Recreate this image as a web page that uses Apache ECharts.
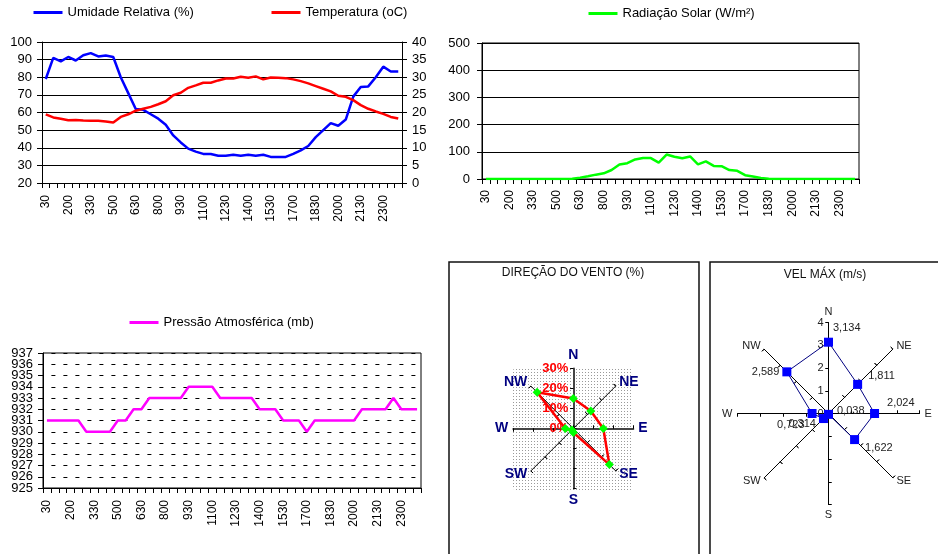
<!DOCTYPE html>
<html><head><meta charset="utf-8">
<script src="https://cdn.jsdelivr.net/npm/echarts@6/dist/echarts.min.js"></script>
<style>html,body{margin:0;padding:0;background:#fff}#c{width:938px;height:554px}</style>
</head><body><div id="c"></div>
<script>
const categories = ['30','100','130','200','230','300','330','400','430','500','530','600','630','700','730','800','830','900','930','1000','1030','1100','1130','1200','1230','1300','1330','1400','1430','1500','1530','1600','1630','1700','1730','1800','1830','1900','1930','2000','2030','2100','2130','2200','2230','2300','2330','0'];
const umidade = [79,91,89,91.5,89.5,92.5,93.7,91.8,92.3,91.5,80,71,62,61.5,59,56.5,53,47,43,39.5,37.8,36.5,36.5,35.5,35.5,36,35.5,36,35.5,36,34.8,34.8,34.8,36.5,38.5,41,46,50,54,52.5,56,69,74.5,74.8,80,86,83.3,83.3];
const temperatura = [19.45,18.6,18.2,17.8,17.9,17.7,17.65,17.65,17.45,17.15,18.75,19.5,20.5,21.05,21.6,22.35,23.2,24.9,25.6,27.0,27.7,28.45,28.45,29.1,29.65,29.65,30.15,29.85,30.25,29.4,29.95,29.85,29.75,29.4,28.9,28.25,27.5,26.75,26.0,24.75,24.45,23.5,22.1,21.05,20.3,19.6,18.75,18.3];
const radiacao = [0,0,0,0,0,0,0,0,0,0,0,1,5,10,16,21,33,53,58,72,77,77,60,90,82,76,83,54,65,48,47,33,30,14,9,4,1,0,0,0,0,0,0,0,0,0,0,0];
const pressao = [931,931,931,931,931,930,930,930,930,931,931,932,932,933,933,933,933,933,934,934,934,934,933,933,933,933,933,932,932,932,931,931,931,930,931,931,931,931,931,931,932,932,932,932,933,932,932,932];
const windDirs = ['N','NW','W','SW','S','SE','E','NE'];
const windPct = [15,25.6,4,1,2,25.5,15,12.4];
const velMax = [3.134,2.589,0.723,0.314,0.038,1.622,2.024,1.811];
const leftTicks1 = {min:20,max:100,interval:10};
const rightTicks1 = {min:0,max:40,interval:5};
const radTicks = {min:0,max:500,interval:100};
const presTicks = {min:925,max:937,interval:1};
const presEnds = {min:925,max:937,interval:12};

const FF = 'Liberation Sans, Arial, sans-serif';
const chart = echarts.init(document.getElementById('c'));

// dotted pattern
const pc = document.createElement('canvas'); pc.width = 3; pc.height = 3;
const pctx = pc.getContext('2d');
pctx.fillStyle = '#ffffff'; pctx.fillRect(0,0,3,3);
pctx.fillStyle = '#9a9a9a'; pctx.fillRect(0,0,1,1);

function xAx(gi, margin){
  return {type:'category', gridIndex:gi, data:categories, boundaryGap:true,
    axisLine:{show:true, lineStyle:{color:'#000',width:1}},
    axisTick:{show:true, interval:0, length:5, lineStyle:{color:'#000'}},
    axisLabel:{interval:2, rotate:90, fontSize:12, color:'#000', margin:margin, fontFamily:FF, hideOverlap:false},
    splitLine:{show:false}};
}
function yAx(gi, t, pos, margin, split, minmax){
  return {type:'value', gridIndex:gi, position:pos, min:t.min, max:t.max, interval:t.interval,
    axisLine:{show:true, lineStyle:{color:'#000',width:1}},
    axisTick:{show:true, length:5, lineStyle:{color:'#000'}},
    axisLabel:{fontSize:13, color:'#000', margin:margin, fontFamily:FF,
      showMinLabel:minmax, showMaxLabel:minmax, hideOverlap:false},
    splitLine: split};
}
const solidSplit = {show:true, lineStyle:{color:'#000', width:1}};
const dashSplit = {show:true, lineStyle:{color:'#000', width:1, type:[4,8], dashOffset:3.6}};

function lineSeries(name, xi, yi, data, color){
  return {name:name, type:'line', xAxisIndex:xi, yAxisIndex:yi, data:data, symbol:'none',
    color:color, lineStyle:{width:2.5, color:color}, itemStyle:{color:color}, emphasis:{disabled:true}};
}
function legendOf(name, left, top){
  return {data:[name], left:left, top:top, itemWidth:29, itemHeight:14, itemGap:0, padding:0,
    itemStyle:{opacity:0}, lineStyle:{width:3},
    textStyle:{fontSize:13, color:'#000', fontFamily:FF}, selectedMode:false};
}

const cardinal = {N:1,S:1,E:1,W:1};
function windIndicators(main){
  return windDirs.map(d => {
    const o = {name:d, min:0, max:30};
    if (main) {
      if (cardinal[d]) o.axisLine = {lineStyle:{color:'#444', width:2}};
      if (d === 'N') o.axisLabel = {show:true, color:'#ff0000', fontWeight:'bold', fontSize:13, fontFamily:FF, margin:5, formatter:'{value}%'};
    }
    return o;
  });
}
function velIndicators(main){
  return windDirs.map(d => {
    const o = {name:d, min:0, max:4};
    if (main && d === 'N') o.axisLabel = {show:true, color:'#222', fontSize:11, fontFamily:FF, margin:5};
    return o;
  });
}
const windCenter = [573.3, 428.5], windR = 60;
const velCenter = [828.5, 413.5], velR = 91;

const radars = [
  {center:windCenter, radius:windR, startAngle:90, shape:'polygon', splitNumber:3, indicator:windIndicators(true),
   axisName:{color:'#000080', fontWeight:'bold', fontSize:14, fontFamily:FF}, nameGap:5,
   splitLine:{show:false}, splitArea:{show:false},
   axisLine:{show:true, lineStyle:{color:'#000', width:1}},
   axisTick:{show:true, length:3, lineStyle:{color:'#000'}}, axisLabel:{show:false}},
  {center:windCenter, radius:windR, startAngle:90, shape:'polygon', splitNumber:3, indicator:windIndicators(false),
   axisName:{show:false}, splitLine:{show:false}, splitArea:{show:false}, axisLine:{show:false},
   axisTick:{show:true, inside:true, length:3, lineStyle:{color:'#000'}}, axisLabel:{show:false}},
  {center:velCenter, radius:velR, startAngle:90, shape:'polygon', splitNumber:4, indicator:velIndicators(true),
   axisName:{color:'#222', fontSize:11, fontFamily:FF}, nameGap:5,
   splitLine:{show:false}, splitArea:{show:false},
   axisLine:{show:true, lineStyle:{color:'#000', width:1}},
   axisTick:{show:true, length:3, lineStyle:{color:'#000'}}, axisLabel:{show:false}},
  {center:velCenter, radius:velR, startAngle:90, shape:'polygon', splitNumber:4, indicator:velIndicators(false),
   axisName:{show:false}, splitLine:{show:false}, splitArea:{show:false}, axisLine:{show:false},
   axisTick:{show:true, inside:true, length:3, lineStyle:{color:'#000'}}, axisLabel:{show:false}}
];

const fmtV = v => v.toFixed(3).replace('.', ',');
const velLabelPos = {N:['right',[-5,-14]], NW:['left',[2,0]], W:['left',[2,11]], SW:['left',[2,5]],
  S:['right',[-1,-3]], SE:['right',[1,8]], E:['right',[3,-11]], NE:['right',[1,-8]]};
const velItems = [{value:velMax, symbol:'rect', symbolSize:9, itemStyle:{color:'#0000ff'},
  lineStyle:{color:'#000080', width:1}, label:{show:false}}];
windDirs.forEach((d,k) => {
  const target = velMax[k];
  velItems.push({value:velMax, symbol:'rect', symbolSize:9, itemStyle:{color:'rgba(0,0,0,0)'},
    lineStyle:{width:0, opacity:0},
    label:{show:true, position:velLabelPos[d][0], offset:velLabelPos[d][1], distance:5,
      fontSize:11, color:'#222', fontFamily:FF,
      formatter: p => (Math.abs(p.value - target) < 1e-9 ? fmtV(p.value) : '')}});
});

const presEndAxis = yAx(2, presEnds, 'left', 10, {show:false}, true);
presEndAxis.axisLine = {show:false};

const option = {
  animation:false,
  textStyle:{fontFamily:FF, color:'#000'},
  legend:[
    legendOf('Umidade Relativa (%)', 32, 6),
    legendOf('Temperatura (oC)', 270, 6),
    legendOf('Radiação Solar (W/m²)', 587, 7),
    legendOf('Pressão Atmosférica (mb)', 128, 316)
  ],
  grid:[
    {left:42, top:42, width:360, height:141, outerBoundsMode:'none'},
    {left:482, top:43, width:377, height:136, show:true, borderColor:'#000', borderWidth:1, outerBoundsMode:'none'},
    {left:43, top:353, width:378, height:135, show:true, borderColor:'#000', borderWidth:1, outerBoundsMode:'none'}
  ],
  xAxis:[xAx(0,12), xAx(1,11), xAx(2,12)],
  yAxis:[
    yAx(0, leftTicks1, 'left', 10, solidSplit, true),
    yAx(0, rightTicks1, 'right', 10, {show:false}, true),
    yAx(1, radTicks, 'left', 12, solidSplit, true),
    yAx(2, presTicks, 'left', 10, dashSplit, false),
    presEndAxis
  ],
  radar: radars,
  graphic:[
    {type:'rect', z:-10, shape:{x:513, y:368, width:120, height:122, r:3}, style:{fill:{image:pc, repeat:'repeat'}, stroke:'none'}},
    {type:'rect', z:-10, shape:{x:449, y:262, width:250, height:400}, style:{fill:'none', stroke:'#111', lineWidth:1.5}},
    {type:'rect', z:-10, shape:{x:710, y:262, width:300, height:400}, style:{fill:'none', stroke:'#111', lineWidth:1.5}},
    {type:'text', x:573, y:273, style:{text:'DIREÇÃO DO VENTO (%)', align:'center', verticalAlign:'middle', font:'12px '+FF, fill:'#111'}},
    {type:'text', x:825, y:275, style:{text:'VEL MÁX (m/s)', align:'center', verticalAlign:'middle', font:'12px '+FF, fill:'#111'}}
  ],
  series:[
    lineSeries('Umidade Relativa (%)', 0, 0, umidade, '#0000ff'),
    lineSeries('Temperatura (oC)', 0, 1, temperatura, '#ff0000'),
    lineSeries('Radiação Solar (W/m²)', 1, 2, radiacao, '#00ff00'),
    lineSeries('Pressão Atmosférica (mb)', 2, 3, pressao, '#ff00ff'),
    {type:'radar', radarIndex:0, z:5, emphasis:{disabled:true}, symbol:'diamond', symbolSize:9,
     data:[{value:windPct}], lineStyle:{color:'#ff0000', width:2.5}, itemStyle:{color:'#00ff00'}},
    {type:'radar', radarIndex:2, z:5, emphasis:{disabled:true}, data:velItems}
  ]
};
chart.setOption(option);
</script></body></html>
